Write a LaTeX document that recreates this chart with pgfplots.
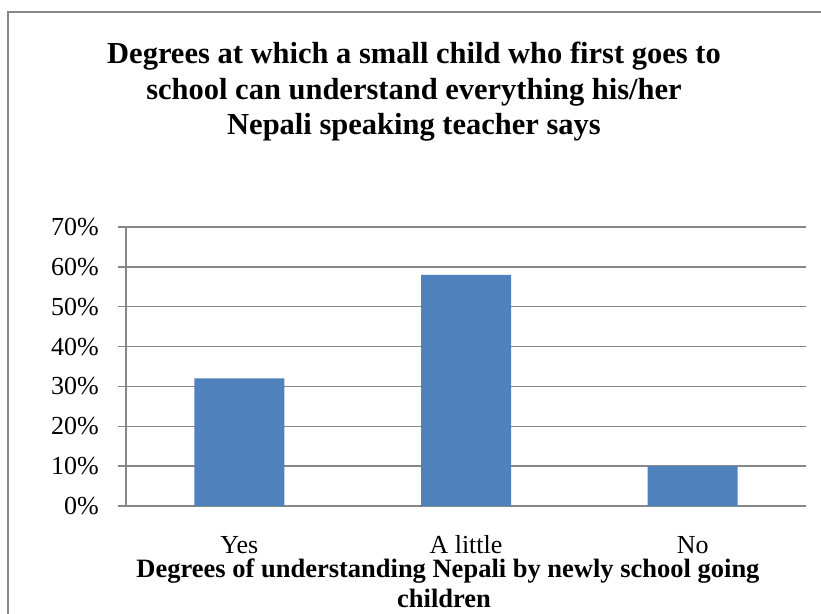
\documentclass[border=0pt]{standalone}
\usepackage{pgfplots}
\pgfplotsset{compat=1.18}
\usepackage{fontspec}
\setmainfont{Liberation Serif}
\definecolor{barblue}{HTML}{4F81BD}
\definecolor{gridgray}{HTML}{878787}
\begin{document}
\begin{tikzpicture}[x=1pt,y=1pt]
\useasboundingbox (0,0) rectangle (821,613);
\draw[line width=2pt, gridgray] (8,-5) -- (8,601) -- (830,601);
\node[anchor=base, font=\fontsize{30.5}{35}\selectfont\bfseries] at (414,549) {Degrees at which a small child who first goes to};
\node[anchor=base, font=\fontsize{30.5}{35}\selectfont\bfseries] at (414,513) {school can understand everything his/her};
\node[anchor=base, font=\fontsize{30.5}{35}\selectfont\bfseries] at (414,478) {Nepali speaking teacher says};
\node[anchor=base, font=\fontsize{26.5}{30}\selectfont\bfseries] at (448,36) {Degrees of understanding Nepali by newly school going};
\node[anchor=base, font=\fontsize{26.5}{30}\selectfont\bfseries] at (444,6) {children};
\begin{axis}[
  at={(126pt,107pt)}, anchor=south west,
  scale only axis, width=680pt, height=279pt,
  xmin=-0.5, xmax=2.5, ymin=0, ymax=70,
  ybar, bar width=90pt,
  xtick={0,1,2}, xticklabels={Yes,A little,No},
  ytick={0,10,...,70},
  yticklabel={\pgfmathprintnumber{\tick}\%},
  /pgf/number format/assume math mode=true,
  axis x line*=bottom, axis y line*=left,
  axis line style={-, line width=1.5pt, gridgray},
  ymajorgrids,
  grid style={line width=1.5pt, gridgray},
  major tick length=8pt, tick align=outside,
  xtick style={draw=none},
  ytick style={line width=1.5pt, gridgray},
  ticklabel style={font=\fontsize{26}{30}\selectfont},
  yticklabel style={anchor=east, inner sep=0pt, xshift=-19pt},
  xticklabel style={anchor=base, inner sep=0pt, yshift=-39pt},
]
\addplot[fill=barblue, draw=none] coordinates {(0,32) (1,58) (2,10)};
\end{axis}
\end{tikzpicture}
\end{document}
